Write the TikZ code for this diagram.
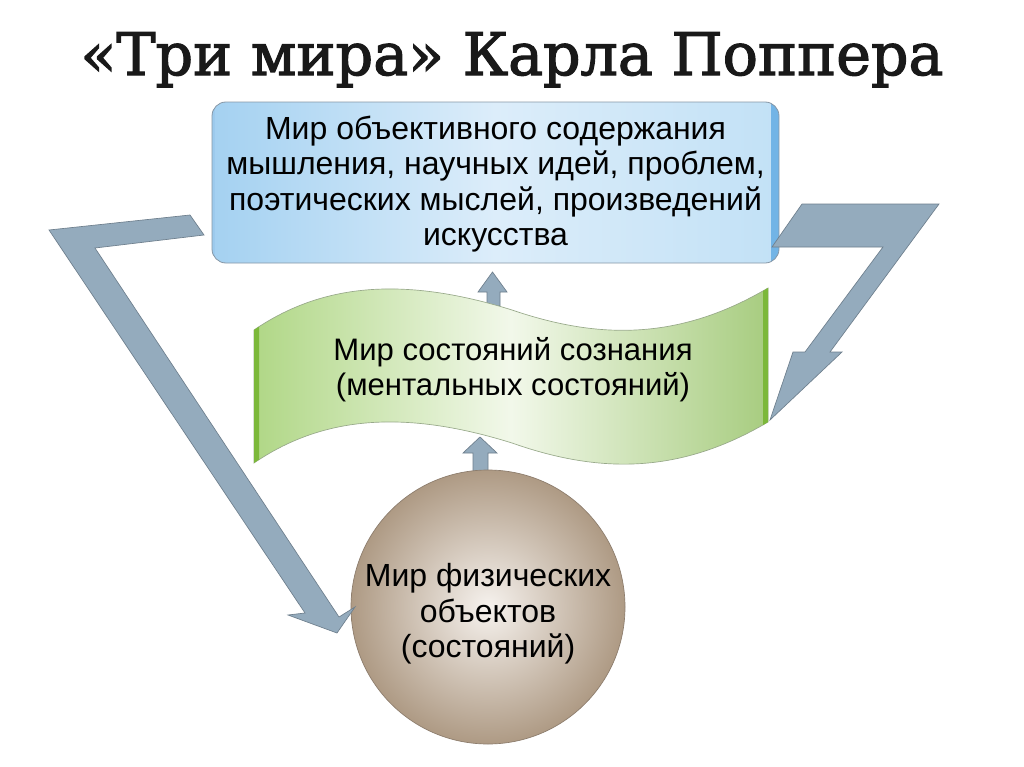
\documentclass[tikz,border=0pt]{standalone}
\usepackage{fontspec}
\setmainfont{Liberation Sans}
\newfontfamily\titlefont[FakeBold=2]{DejaVu Serif}
\definecolor{arrowfill}{HTML}{94ABBD}
\definecolor{arrowline}{HTML}{6E7F8D}
\definecolor{boxleft}{HTML}{A4D1F1}
\definecolor{boxmid}{HTML}{DCEDFA}
\definecolor{boxright}{HTML}{C2E1F6}
\definecolor{boxstrip}{HTML}{72B4E6}
\definecolor{boxline}{HTML}{8797A6}
\definecolor{greenedge}{HTML}{B0D786}
\definecolor{greenmid}{HTML}{F2F8EA}
\definecolor{greenstrip}{HTML}{7CB83A}
\definecolor{greenline}{HTML}{98A98A}
\definecolor{balllight}{HTML}{F6F2EE}
\definecolor{balldark}{HTML}{AE9A84}
\definecolor{ballline}{HTML}{8C7C6C}
\begin{document}
\begin{tikzpicture}[x=0.75pt,y=-0.75pt,
  blockarrow/.style={fill=arrowfill,draw=arrowline,line width=0.5pt,line join=miter},
  bodytext/.style={font=\fontsize{24}{26.5}\selectfont,align=center,text=black,inner sep=0pt}]
\useasboundingbox (0,0) rectangle (1024,767);
\fill[white] (0,0) rectangle (1024,767);

% title
\node[anchor=base,font=\titlefont\fontsize{44}{50}\selectfont,text=black!90] (title) at (512,75) {«Три мира» Карла Поппера};

% world 3 box
\path[left color=boxleft,right color=boxright,middle color=boxmid,rounded corners=10.5pt] (212,102) rectangle (779,263);
\begin{scope}
  \clip[rounded corners=10.5pt] (212,102) rectangle (779,263);
  \fill[boxstrip] (771,102) rectangle (779,263);
  \fill[boxstrip!70] (212,102) rectangle (215,263);
\end{scope}
\draw[boxline,line width=0.6pt,rounded corners=10.5pt] (212,102) rectangle (779,263);
\node[bodytext] (world3) at (495.5,184) {Мир объективного содержания\\мышления, научных идей, проблем,\\поэтических мыслей, произведений\\искусства};

% small up arrows (behind banner and ball)
\path[blockarrow] (487,306) -- (487,292) -- (478,292) -- (492.5,272) -- (507,292) -- (500,292) -- (500,306) -- cycle;
\path[blockarrow] (473,474) -- (473,453) -- (463,453) -- (480,437) -- (497,453) -- (488,453) -- (488,474) -- cycle;

% world 2 banner
\path[left color=greenedge,right color=greenedge!95!black,middle color=greenmid,draw=greenline,line width=0.5pt]
  (254,330) .. controls (320,285) and (400,275) .. (512,310)
  .. controls (600,340) and (680,340) .. (768,288)
  -- (768,422) .. controls (680,474) and (600,474) .. (512,443)
  .. controls (400,408) and (320,418) .. (254,463) -- cycle;
\fill[greenstrip] (254,330) -- (259,326.6) -- (259,459.6) -- (254,463) -- cycle;
\fill[greenstrip] (763,291) -- (768,288) -- (768,422) -- (763,425) -- cycle;
\node[bodytext,font=\fontsize{23.3}{26.5}\selectfont] (world2) at (513,370) {Мир состояний сознания\\(ментальных состояний)};

% world 1 ball
\node[circle,minimum size=205.5pt,inner sep=0pt,shading=radial,inner color=balllight,outer color=balldark,draw=ballline,line width=0.5pt] (ball) at (488,607) {};
\node[bodytext] (world1) at (488,614) {Мир физических\\объектов\\(состояний)};

% big block arrows
\path[blockarrow] (49,230) -- (190,215) -- (204,235) -- (95,248) -- (339,617) -- (355,607) -- (337,633) -- (288,615) -- (305,613) -- cycle;
\path[blockarrow] (802,204) -- (939,204) -- (830,352) -- (842,352) -- (770,420) -- (793,352) -- (805,352) -- (883,247) -- (772,247) -- cycle;
\end{tikzpicture}
\end{document}
